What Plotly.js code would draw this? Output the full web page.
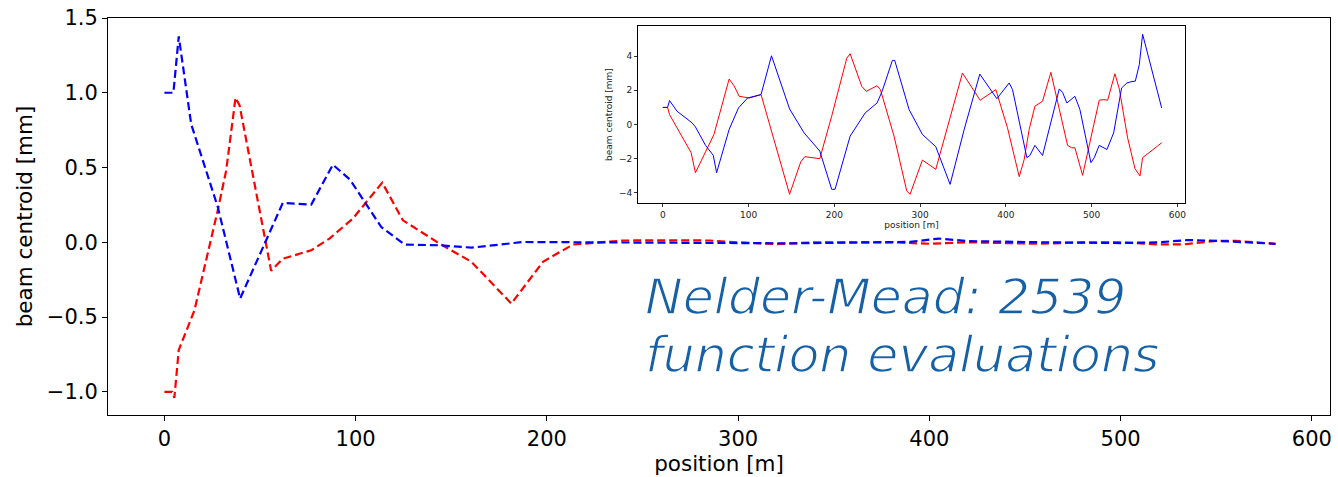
<!DOCTYPE html>
<html>
<head>
<meta charset="utf-8">
<script src="https://cdn.plot.ly/plotly-3.0.1.min.js"></script>
<style>
html,body{margin:0;padding:0;background:#fff;}#chart{width:1338px;height:477px;}
.annotation-text{stroke:#ffffff;stroke-width:1.4px;}
</style>
</head>
<body>
<div id="chart"></div>
<script>
// Main plot (after optimisation)
const mainBlueX = [0, 4.7, 7.5, 14, 27.9, 39.6, 61.9, 76.8, 88.1, 97, 113.4, 125.6, 143.9, 160.5, 187.5, 217, 250, 280, 310, 330, 370, 390, 405, 420, 460, 500, 520, 535, 550, 581];
const mainBlueY = [1.0, 1.0, 1.377, 0.79, 0.236, -0.376, 0.263, 0.252, 0.519, 0.42, 0.102, -0.015, -0.02, -0.036, 0.002, 0, 0, -0.003, -0.005, -0.007, 0, 0.003, 0.025, 0.008, 0, -0.005, 0, 0.015, 0.01, -0.01];
const mainRedX = [0, 4, 5.2, 7.5, 15.7, 27.9, 32.3, 37.2, 39.3, 55.8, 61.9, 76.8, 86.3, 98.5, 113.9, 124.7, 143.9, 160.5, 181.4, 198, 213.6, 240, 265, 285, 300, 320, 340, 380, 400, 420, 458, 480, 500, 520, 533, 550, 560, 581];
const mainRedY = [-1.0, -1.0, -1.04, -0.72, -0.455, 0.214, 0.48, 0.967, 0.916, -0.19, -0.11, -0.053, 0.025, 0.158, 0.399, 0.147, -0.009, -0.13, -0.41, -0.13, -0.015, 0.012, 0.013, 0.012, 0, -0.012, 0, 0, -0.01, 0, -0.01, 0, 0, -0.014, -0.014, 0.01, 0.01, -0.01];

// Inset (initial orbit)
const insetBlueX = [0, 5.5, 7.8, 16.5, 34, 38, 49.8, 58.8, 62.7, 77.3, 88.2, 98.8, 114.5, 126.7, 147.8, 164.7, 183, 196.9, 200.8, 218.4, 236, 249.8, 255.7, 267.7, 270.4, 287.2, 302.7, 318.3, 335, 351.4, 369.6, 389.5, 403.9, 407.8, 424.5, 428, 433.9, 442.8, 462.3, 466.1, 471.2, 480.5, 486.4, 499.2, 503.1, 508.9, 517.9, 525.7, 535, 541.2, 545.9, 551, 555.6, 559.5, 581.7];
const insetBlueY = [1.0, 1.0, 1.4, 0.78, 0.1, -0.14, -1.22, -1.8, -2.82, -0.29, 0.97, 1.55, 1.75, 4.02, 0.91, -0.49, -1.55, -3.79, -3.79, -0.68, 0.68, 1.26, 1.94, 3.75, 3.75, 0.87, -0.58, -1.3, -3.5, -0.29, 2.95, 1.51, 2.43, 2.04, -1.94, -1.81, -1.22, -1.81, 2.08, 1.88, 1.26, 1.65, 0.87, -2.23, -1.94, -1.22, -1.46, -0.49, 2.14, 2.43, 2.5, 2.54, 3.5, 5.28, 0.97];
const insetRedX = [0, 5.5, 7.8, 33, 38, 59.6, 77.3, 83, 89, 100.8, 114.5, 147.8, 160.8, 165.5, 183, 196.9, 214.5, 218.4, 232, 237.3, 249.8, 253.7, 269.6, 284.4, 288.3, 302.7, 318.3, 349.4, 370, 388.3, 401.9, 415.6, 421.4, 427.2, 433.9, 439, 442.8, 452.5, 456.4, 472, 476.7, 480.5, 489.5, 499.2, 508.9, 514, 518.7, 527.2, 532.3, 542, 550.6, 556.4, 559.5, 581.7];
const insetRedY = [1.0, 1.0, 0.58, -1.65, -2.82, -0.58, 2.66, 2.27, 1.65, 1.55, 1.75, -4.08, -2.19, -1.88, -2.0, 0.49, 3.88, 4.14, 2.23, 1.94, 2.27, 2.04, -0.68, -3.88, -4.08, -2.08, -2.62, 3.01, 1.42, 2.04, -0.19, -3.05, -2.04, -0.29, 1.07, 1.26, 1.36, 3.05, 2.23, -1.22, -1.36, -1.36, -2.97, -0.87, 1.42, 1.46, 1.42, 2.97, 2.08, -0.78, -2.58, -3.01, -1.94, -1.07];

const xTitle = 'position [m]';
const yTitle = 'beam centroid [mm]';
const noteLines = ['Nelder-Mead: 2539', 'function evaluations'];

const font = 'DejaVu Sans, sans-serif';
const traces = [
  {x: mainRedX, y: mainRedY, type: 'scatter', mode: 'lines', line: {color: '#ff0000', width: 2.2, dash: '8px,4px'}, xaxis: 'x', yaxis: 'y', hoverinfo: 'skip'},
  {x: mainBlueX, y: mainBlueY, type: 'scatter', mode: 'lines', line: {color: '#0000ff', width: 2.2, dash: '8px,4px'}, xaxis: 'x', yaxis: 'y', hoverinfo: 'skip'},
  {x: insetRedX, y: insetRedY, type: 'scatter', mode: 'lines', line: {color: '#ff0000', width: 1}, xaxis: 'x2', yaxis: 'y2', hoverinfo: 'skip'},
  {x: insetBlueX, y: insetBlueY, type: 'scatter', mode: 'lines', line: {color: '#0000ff', width: 1}, xaxis: 'x2', yaxis: 'y2', hoverinfo: 'skip'}
];

const axBase = {showgrid: false, zeroline: false, showline: true, linecolor: '#000', linewidth: 1, mirror: true, ticks: 'outside', tickcolor: '#000'};
const noteFont = {family: 'DejaVu Sans, sans-serif', size: 50.5, color: '#1560a6', style: 'italic'};

const layout = {
  width: 1338, height: 477,
  margin: {l: 108, r: 8, t: 18, b: 62},
  paper_bgcolor: '#fff', plot_bgcolor: '#fff',
  showlegend: false,
  font: {family: font, color: '#000'},
  xaxis: Object.assign({}, axBase, {domain: [0, 1], range: [-29.5, 609.5], dtick: 100, tick0: 0, ticklen: 5, tickwidth: 1,
    tickfont: {size: 21, family: font}, title: {text: xTitle, font: {size: 21.5, family: font}, standoff: 4}}),
  yaxis: Object.assign({}, axBase, {domain: [0, 1], range: [-1.155, 1.5], dtick: 0.5, tick0: 0, tickformat: '.1f', ticklen: 5, tickwidth: 1,
    tickfont: {size: 21, family: font}, title: {text: yTitle, font: {size: 21.5, family: font}, standoff: 8}}),
  xaxis2: Object.assign({}, axBase, {domain: [0.4337, 0.8814], anchor: 'y2', range: [-29, 609], dtick: 100, tick0: 0, ticklen: 3, tickwidth: 0.8,
    tickfont: {size: 9, family: font, color: '#222'}, title: {text: xTitle, font: {size: 9, family: font, color: '#222'}, standoff: 2}}),
  yaxis2: Object.assign({}, axBase, {domain: [0.534, 0.9798], anchor: 'x2', range: [-4.59, 5.76], dtick: 2, tick0: 0, ticklen: 3, tickwidth: 0.8,
    tickfont: {size: 9, family: font, color: '#222'}, title: {text: yTitle, font: {size: 9, family: font, color: '#222'}, standoff: 4}}),
  annotations: [
    {xref: 'paper', yref: 'paper', x: 0.438, y: 0.3778, xanchor: 'left', yanchor: 'top', align: 'left', showarrow: false, text: noteLines[0], font: noteFont},
    {xref: 'paper', yref: 'paper', x: 0.438, y: 0.2317, xanchor: 'left', yanchor: 'top', align: 'left', showarrow: false, text: noteLines[1], font: noteFont}
  ]
};

Plotly.newPlot('chart', traces, layout, {staticPlot: true, displayModeBar: false});
</script>
</body>
</html>
